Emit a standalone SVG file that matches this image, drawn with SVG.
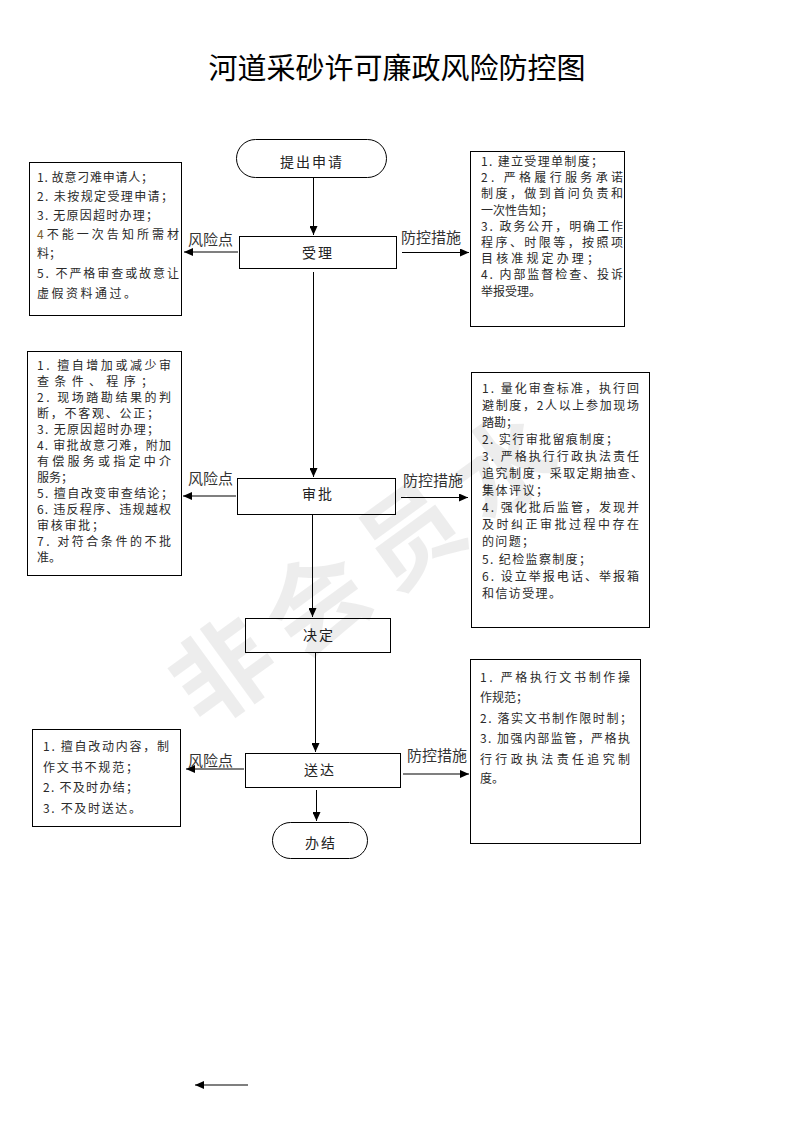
<svg xmlns="http://www.w3.org/2000/svg" width="793" height="1122" viewBox="0 0 793 1122">
<style>
.box{fill:#fff;stroke:#000;stroke-width:1}
.t{font-family:"Noto Sans CJK SC","Noto Sans CJK JP",sans-serif;font-size:12px;fill:#2a2a2a}
.n{font-family:"Noto Sans CJK SC","Noto Sans CJK JP",sans-serif;font-size:14px;fill:#222;text-anchor:middle;letter-spacing:2px}
.lb{font-family:"Noto Sans CJK SC","Noto Sans CJK JP",sans-serif;font-size:15px;fill:#333}
.ln{fill:none;stroke:#000;stroke-width:1}
.lg{fill:none;stroke:#555;stroke-width:1.6}
.title{font-family:"Noto Sans CJK SC","Noto Sans CJK JP",sans-serif;font-size:29px;fill:#000;text-anchor:middle}
</style>
<defs>
<marker id="ah" markerUnits="userSpaceOnUse" markerWidth="10" markerHeight="8" refX="9" refY="4" orient="auto">
<path d="M0,0 L9,4 L0,8 z" fill="#000"/>
</marker>
</defs>
<rect width="793" height="1122" fill="#fff"/>
<text class="title" x="397" y="79">河道采砂许可廉政风险防控图</text>

<g id="connectors">
<line class="ln" x1="313.5" y1="178" x2="313.5" y2="235" marker-end="url(#ah)"/>
<line class="ln" x1="313.5" y1="272" x2="313.5" y2="477" marker-end="url(#ah)"/>
<line class="ln" x1="312.5" y1="515" x2="312.5" y2="617" marker-end="url(#ah)"/>
<line class="ln" x1="315.5" y1="653" x2="315.5" y2="752" marker-end="url(#ah)"/>
<line class="ln" x1="316.5" y1="790" x2="316.5" y2="821" marker-end="url(#ah)"/>
<line class="lg" x1="238" y1="252" x2="184" y2="252" marker-end="url(#ah)"/>
<line class="ln" x1="402" y1="252.5" x2="469" y2="252.5" marker-end="url(#ah)"/>
<line class="lg" x1="236" y1="496" x2="183" y2="496" marker-end="url(#ah)"/>
<line class="ln" x1="401" y1="497.5" x2="468" y2="497.5" marker-end="url(#ah)"/>
<line class="lg" x1="244" y1="769" x2="186" y2="769" marker-end="url(#ah)"/>
<line class="lg" x1="403" y1="774" x2="469" y2="774" marker-end="url(#ah)"/>
<line class="lg" x1="248" y1="1085" x2="195" y2="1085" marker-end="url(#ah)"/>
<text class="lb" x="188" y="245">风险点</text>
<text class="lb" x="401" y="243">防控措施</text>
<text class="lb" x="188" y="484">风险点</text>
<text class="lb" x="403" y="486">防控措施</text>
<text class="lb" x="188" y="766">风险点</text>
<text class="lb" x="407" y="761">防控措施</text>
</g>

<g id="start">
<rect class="box" x="236.5" y="139.5" width="150" height="38" rx="19"/>
<text class="n" x="312" y="167">提出申请</text>
</g>
<g id="shouli">
<rect class="box" x="239.5" y="236.5" width="157" height="32"/>
<text class="n" x="318" y="258">受理</text>
</g>
<g id="shenpi">
<rect class="box" x="237.5" y="478.5" width="158" height="36"/>
<text class="n" x="318" y="499">审批</text>
</g>
<g id="jueding">
<rect class="box" x="245.5" y="618.5" width="145" height="34"/>
<text class="n" x="319" y="640">决定</text>
</g>
<g id="songda">
<rect class="box" x="245.5" y="753.5" width="155" height="34"/>
<text class="n" x="320" y="775">送达</text>
</g>
<g id="end">
<rect class="box" x="272.5" y="822.5" width="95" height="36" rx="18"/>
<text class="n" x="321" y="848">办结</text>
</g>

<g id="risk1">
<rect class="box" x="29.5" y="162.5" width="152" height="153"/>
<text class="t" x="37" y="181.5" textLength="116" lengthAdjust="spacing">1. 故意刁难申请人；</text>
<text class="t" x="37" y="201" textLength="136" lengthAdjust="spacing">2. 未按规定受理申请；</text>
<text class="t" x="37" y="220" textLength="121" lengthAdjust="spacing">3. 无原因超时办理；</text>
<text class="t" x="37" y="239" textLength="142" lengthAdjust="spacing"><tspan fill="#7a5c2e">4</tspan>不能一次告知所需材</text>
<text class="t" x="37" y="258">料；</text>
<text class="t" x="37" y="277.5" textLength="142" lengthAdjust="spacing">5. 不严格审查或故意让</text>
<text class="t" x="37" y="297.5" textLength="99" lengthAdjust="spacing">虚假资料通过。</text>
</g>

<g id="control1">
<rect class="box" x="470.5" y="151.5" width="154" height="175"/>
<text class="t" x="481" y="166" textLength="122" lengthAdjust="spacing">1. 建立受理单制度；</text>
<text class="t" x="481" y="182.2" textLength="142" lengthAdjust="spacing">2. 严格履行服务承诺</text>
<text class="t" x="481" y="198.4" textLength="142" lengthAdjust="spacing">制度，做到首问负责和</text>
<text class="t" x="481" y="214.6">一次性告知；</text>
<text class="t" x="481" y="230.8" textLength="142" lengthAdjust="spacing">3. 政务公开，明确工作</text>
<text class="t" x="481" y="247" textLength="142" lengthAdjust="spacing">程序、时限等，按照项</text>
<text class="t" x="481" y="263.2" textLength="118" lengthAdjust="spacing">目核准规定办理；</text>
<text class="t" x="481" y="279.4" textLength="142" lengthAdjust="spacing">4. 内部监督检查、投诉</text>
<text class="t" x="481" y="295.6">举报受理。</text>
</g>

<g id="risk2">
<rect class="box" x="27.5" y="351.5" width="154" height="224"/>
<text class="t" x="37" y="369.5" textLength="134" lengthAdjust="spacing">1. 擅自增加或减少审</text>
<text class="t" x="37" y="385.5" textLength="116" lengthAdjust="spacing">查条件、程序；</text>
<text class="t" x="37" y="401.5" textLength="134" lengthAdjust="spacing">2. 现场踏勘结果的判</text>
<text class="t" x="37" y="417.5" textLength="122" lengthAdjust="spacing">断，不客观、公正；</text>
<text class="t" x="37" y="433.5" textLength="122" lengthAdjust="spacing">3. 无原因超时办理；</text>
<text class="t" x="37" y="449.5" textLength="134" lengthAdjust="spacing">4. 审批故意刁难，附加</text>
<text class="t" x="37" y="465.5" textLength="134" lengthAdjust="spacing">有偿服务或指定中介</text>
<text class="t" x="37" y="481.5">服务；</text>
<text class="t" x="37" y="497.5" textLength="136" lengthAdjust="spacing">5. 擅自改变审查结论；</text>
<text class="t" x="37" y="513.5" textLength="134" lengthAdjust="spacing">6. 违反程序、违规越权</text>
<text class="t" x="37" y="529.5" textLength="67" lengthAdjust="spacing">审核审批；</text>
<text class="t" x="37" y="545.5" textLength="134" lengthAdjust="spacing">7. 对符合条件的不批</text>
<text class="t" x="37" y="561.5">准。</text>
</g>

<g id="control2">
<rect class="box" x="471.5" y="372.5" width="178" height="255"/>
<text class="t" x="482" y="392.5" textLength="157" lengthAdjust="spacing">1. 量化审查标准，执行回</text>
<text class="t" x="482" y="409.6" textLength="157" lengthAdjust="spacing">避制度，2人以上参加现场</text>
<text class="t" x="482" y="426.7">踏勘；</text>
<text class="t" x="482" y="443.8" textLength="136" lengthAdjust="spacing">2. 实行审批留痕制度；</text>
<text class="t" x="482" y="460.9" textLength="157" lengthAdjust="spacing">3. 严格执行行政执法责任</text>
<text class="t" x="482" y="478" textLength="161" lengthAdjust="spacing">追究制度，采取定期抽查、</text>
<text class="t" x="482" y="495.1" textLength="66" lengthAdjust="spacing">集体评议；</text>
<text class="t" x="482" y="512.2" textLength="157" lengthAdjust="spacing">4. 强化批后监管，发现并</text>
<text class="t" x="482" y="529.3" textLength="157" lengthAdjust="spacing">及时纠正审批过程中存在</text>
<text class="t" x="482" y="546.4" textLength="52" lengthAdjust="spacing">的问题；</text>
<text class="t" x="482" y="563.5" textLength="109" lengthAdjust="spacing">5. 纪检监察制度；</text>
<text class="t" x="482" y="580.6" textLength="157" lengthAdjust="spacing">6. 设立举报电话、举报箱</text>
<text class="t" x="482" y="597.7" textLength="79" lengthAdjust="spacing">和信访受理。</text>
</g>

<g id="risk3">
<rect class="box" x="32.5" y="729.5" width="148" height="97"/>
<text class="t" x="43" y="750.5" textLength="126" lengthAdjust="spacing">1. 擅自改动内容，制</text>
<text class="t" x="43" y="771.5" textLength="95" lengthAdjust="spacing">作文书不规范；</text>
<text class="t" x="43" y="792" textLength="95" lengthAdjust="spacing">2. 不及时办结；</text>
<text class="t" x="43" y="812.5" textLength="98" lengthAdjust="spacing">3. 不及时送达。</text>
</g>

<g id="control3">
<rect class="box" x="470.5" y="659.5" width="170" height="184"/>
<text class="t" x="480" y="681.5" textLength="150" lengthAdjust="spacing">1. 严格执行文书制作操</text>
<text class="t" x="480" y="702">作规范；</text>
<text class="t" x="480" y="722.5" textLength="152" lengthAdjust="spacing">2. 落实文书制作限时制；</text>
<text class="t" x="480" y="743" textLength="150" lengthAdjust="spacing">3. 加强内部监管，严格执</text>
<text class="t" x="480" y="763.5" textLength="150" lengthAdjust="spacing">行行政执法责任追究制</text>
<text class="t" x="480" y="783">度。</text>
</g>

<g id="watermark" transform="translate(222,670) rotate(-36)">
<text x="-50" y="38" font-family="Noto Sans CJK SC, sans-serif" font-size="100" font-weight="700" letter-spacing="16" fill="#000" fill-opacity="0.07">非会员水</text>
</g>
</svg>
